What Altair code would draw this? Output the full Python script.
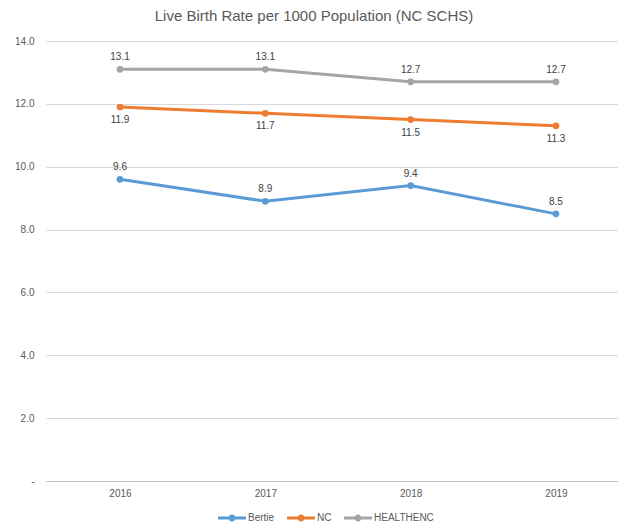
import altair as alt
import pandas as pd

years = ["2016", "2017", "2018", "2019"]
series_names = ["Bertie", "NC", "HEALTHENC"]
bertie = [9.6, 8.9, 9.4, 8.5]
nc = [11.9, 11.7, 11.5, 11.3]
healthenc = [13.1, 13.1, 12.7, 12.7]
y_ticks = [0, 2, 4, 6, 8, 10, 12, 14]
colors = ["#5B9BD5", "#ED7D31", "#A5A5A5"]

rows = []
for name, vals in zip(series_names, [bertie, nc, healthenc]):
    for yr, v in zip(years, vals):
        rows.append({"year": yr, "series": name, "value": v})
df = pd.DataFrame(rows)

FONT = "Liberation Sans"
TXT = "#595959"

# custom legend symbol: line with a dot (both subpaths wound the same way)
sym = ("M-1,-0.1 L1,-0.1 L1,0.1 L-1,0.1 Z "
       "M-0.25,0 A0.25,0.25 0 1,1 0.25,0 A0.25,0.25 0 1,1 -0.25,0 Z")

x = alt.X("year:O", title=None,
          scale=alt.Scale(type="point", padding=0.468, align=0.544),
          axis=alt.Axis(labelAngle=0, ticks=False, domain=True, domainColor="#BFBFBF",
                        labelColor=TXT, labelFont=FONT, labelFontSize=10, labelPadding=7))
y = alt.Y("value:Q", title=None,
          scale=alt.Scale(domain=[0, 14], nice=False),
          axis=alt.Axis(values=y_ticks, domain=False, ticks=False, grid=True,
                        gridColor="#D9D9D9", labelColor=TXT, labelFont=FONT,
                        labelFontSize=10, labelPadding=12,
                        labelExpr="datum.value == 0 ? '-    ' : format(datum.value, '.1f')"))
color = alt.Color("series:N", scale=alt.Scale(domain=series_names, range=colors),
                  legend=alt.Legend(title=None, orient="none", direction="horizontal",
                                    legendX=172, legendY=463, symbolType=sym,
                                    symbolSize=784, symbolStrokeWidth=0,
                                    labelFont=FONT, labelFontSize=10, labelColor=TXT,
                                    columnPadding=12, labelOffset=2))

base = alt.Chart(df)
lines = base.mark_line(strokeWidth=3).encode(x=x, y=y, color=color)
points = base.mark_circle(size=45, opacity=1).encode(
    x=x, y=y,
    color=alt.Color("series:N", scale=alt.Scale(domain=series_names, range=colors), legend=None))

def labels(name, dy):
    return base.transform_filter(alt.datum.series == name).mark_text(
        dy=dy, font=FONT, fontSize=10, color="#404040"
    ).encode(x=x, y=y, text=alt.Text("value:Q", format=".1f"))

chart = alt.layer(lines, points, labels("Bertie", -12), labels("NC", 13),
                  labels("HEALTHENC", -12)).properties(
    width=572, height=440,
    title=alt.TitleParams("Live Birth Rate per 1000 Population (NC SCHS)",
                          font=FONT, fontSize=15, fontWeight="normal", color=TXT,
                          anchor="middle", offset=12, dx=-18),
    autosize=alt.AutoSizeParams(type="none"),
    padding={"left": 38, "top": 33, "right": 0, "bottom": 42},
).configure_view(stroke=None)

chart.save("out.html", embed_options={"renderer": "svg", "actions": False})
